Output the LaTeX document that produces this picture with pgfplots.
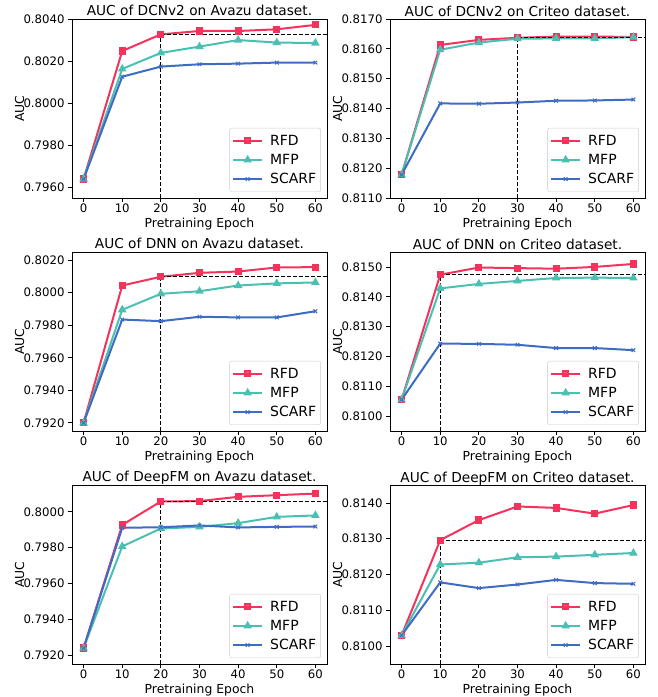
\documentclass[border=0pt]{standalone}
\usepackage{fontspec}
\setmainfont{DejaVu Sans}
\usepackage{pgfplots}
\pgfplotsset{compat=1.18}

\definecolor{rfd}{HTML}{F5325B}
\definecolor{mfp}{HTML}{4AC0B2}
\definecolor{scarf}{HTML}{3E6CC2}

\pgfplotsset{
  aucpanel/.style={
    scale only axis,
    width=255pt, height=179pt,
    anchor=south west,
    xmin=-3, xmax=63,
    xtick={0,10,20,30,40,50,60},
    /pgf/number format/assume math mode=true,
    tick align=outside,
    major tick length=4pt,
    tick style={black, line width=0.8pt},
    xtick pos=bottom, ytick pos=left,
    axis line style={line width=0.8pt},
    tick label style={font=\fontsize{11.7}{13}\selectfont},
    xticklabel style={yshift=1.5pt},
    xlabel={Pretraining Epoch},
    ylabel={AUC},
    label style={font=\fontsize{12.4}{14}\selectfont},
    xlabel style={at={(axis description cs:0.5,0)}, anchor=base, yshift=-29.5pt},
    ylabel style={at={(axis description cs:-0.188,0.5)}, anchor=base},
    title style={at={(axis description cs:0.5,1)}, anchor=base, yshift=-3pt,
      font=\fontsize{13.7}{16}\selectfont},
    legend cell align=left,
    legend style={at={(0.976,0.034)}, anchor=south east,
      draw=black!20, fill=white, fill opacity=0.8, text opacity=1,
      rounded corners=2pt, font=\fontsize{14}{16}\selectfont,
      inner xsep=2.5pt, inner ysep=5pt, row sep=4pt,
      nodes={text height=10.2pt, text depth=1pt, inner sep=2pt},
      /tikz/every odd column/.append style={column sep=5pt}},
    legend image code/.code={
      \draw[mark repeat=2, mark phase=2, ##1]
        plot coordinates {(0pt,0pt) (14.5pt,0pt) (29pt,0pt)};},
  },
  rfdline/.style={color=rfd, line width=2pt, mark=square*, mark size=2.6pt, mark options={solid}},
  mfpline/.style={color=mfp, line width=2pt, mark=triangle*, mark size=3pt, mark options={solid}},
  scarfline/.style={color=scarf, line width=2pt, mark=x, mark size=2.6pt, mark options={solid, line width=1pt}},
  bestline/.style={black, line width=0.9pt, dash pattern=on 4pt off 2pt, forget plot},
}

\begin{document}
\begin{tikzpicture}
\useasboundingbox (0,0) rectangle (657pt,697pt);

% DCNv2 / Avazu
\begin{axis}[aucpanel, at={(72pt,499pt)},
  title={AUC of DCNv2 on Avazu dataset.},
  ymin=0.7955, ymax=0.8040,
  ytick={0.796,0.798,0.800,0.802,0.804},
  yticklabels={0.7960,0.7980,0.8000,0.8020,0.8040}]
\addplot[rfdline] coordinates {(0,0.7964) (10,0.80248) (20,0.80327) (30,0.80343) (40,0.80343) (50,0.80351) (60,0.80372)};
\addplot[mfpline] coordinates {(0,0.7964) (10,0.80163) (20,0.80239) (30,0.80269) (40,0.80300) (50,0.80288) (60,0.80286)};
\addplot[scarfline] coordinates {(0,0.7964) (10,0.80126) (20,0.80174) (30,0.80185) (40,0.80188) (50,0.80193) (60,0.80193)};
\addplot[bestline] coordinates {(20,0.7955) (20,0.80327)};
\addplot[bestline] coordinates {(20,0.80327) (63,0.80327)};
\legend{RFD,MFP,SCARF}
\end{axis}

% DCNv2 / Criteo
\begin{axis}[aucpanel, at={(390pt,499pt)},
  title={AUC of DCNv2 on Criteo dataset.},
  ymin=0.8110, ymax=0.8170,
  ytick={0.811,0.812,0.813,0.814,0.815,0.816,0.817},
  yticklabels={0.8110,0.8120,0.8130,0.8140,0.8150,0.8160,0.8170}]
\addplot[rfdline] coordinates {(0,0.81178) (10,0.81613) (20,0.81630) (30,0.81637) (40,0.81641) (50,0.81641) (60,0.81640)};
\addplot[mfpline] coordinates {(0,0.81178) (10,0.81597) (20,0.81621) (30,0.81634) (40,0.81635) (50,0.81635) (60,0.81639)};
\addplot[scarfline] coordinates {(0,0.81178) (10,0.81417) (20,0.81416) (30,0.81420) (40,0.81426) (50,0.81427) (60,0.81430)};
\addplot[bestline] coordinates {(30,0.8110) (30,0.81637)};
\addplot[bestline] coordinates {(30,0.81637) (63,0.81637)};
\legend{RFD,MFP,SCARF}
\end{axis}

% DNN / Avazu
\begin{axis}[aucpanel, at={(72pt,266pt)},
  title={AUC of DNN on Avazu dataset.},
  ymin=0.7915, ymax=0.8025,
  ytick={0.792,0.794,0.796,0.798,0.800,0.802},
  yticklabels={0.7920,0.7940,0.7960,0.7980,0.8000,0.8020}]
\addplot[rfdline] coordinates {(0,0.7920) (10,0.80044) (20,0.80098) (30,0.80122) (40,0.80130) (50,0.80155) (60,0.80157)};
\addplot[mfpline] coordinates {(0,0.7920) (10,0.79895) (20,0.79993) (30,0.80009) (40,0.80044) (50,0.80057) (60,0.80063)};
\addplot[scarfline] coordinates {(0,0.7920) (10,0.79835) (20,0.79825) (30,0.79852) (40,0.79848) (50,0.79848) (60,0.79886)};
\addplot[bestline] coordinates {(20,0.7915) (20,0.80098)};
\addplot[bestline] coordinates {(20,0.80098) (63,0.80098)};
\legend{RFD,MFP,SCARF}
\end{axis}

% DNN / Criteo
\begin{axis}[aucpanel, at={(390pt,266pt)},
  title={AUC of DNN on Criteo dataset.},
  ymin=0.8095, ymax=0.8155,
  ytick={0.810,0.811,0.812,0.813,0.814,0.815},
  yticklabels={0.8100,0.8110,0.8120,0.8130,0.8140,0.8150}]
\addplot[rfdline] coordinates {(0,0.81055) (10,0.81474) (20,0.81498) (30,0.81496) (40,0.81494) (50,0.81500) (60,0.81510)};
\addplot[mfpline] coordinates {(0,0.81055) (10,0.81428) (20,0.81443) (30,0.81453) (40,0.81463) (50,0.81464) (60,0.81463)};
\addplot[scarfline] coordinates {(0,0.81055) (10,0.81243) (20,0.81242) (30,0.81239) (40,0.81228) (50,0.81228) (60,0.81221)};
\addplot[bestline] coordinates {(10,0.8095) (10,0.81474)};
\addplot[bestline] coordinates {(10,0.81474) (63,0.81474)};
\legend{RFD,MFP,SCARF}
\end{axis}

% DeepFM / Avazu
\begin{axis}[aucpanel, at={(72pt,33pt)},
  title={AUC of DeepFM on Avazu dataset.},
  ymin=0.7915, ymax=0.8015,
  ytick={0.792,0.794,0.796,0.798,0.800},
  yticklabels={0.7920,0.7940,0.7960,0.7980,0.8000}]
\addplot[rfdline] coordinates {(0,0.79239) (10,0.79927) (20,0.80058) (30,0.80060) (40,0.80084) (50,0.80093) (60,0.80102)};
\addplot[mfpline] coordinates {(0,0.79239) (10,0.79807) (20,0.79907) (30,0.79916) (40,0.79937) (50,0.79972) (60,0.79980)};
\addplot[scarfline] coordinates {(0,0.79239) (10,0.79911) (20,0.79914) (30,0.79924) (40,0.79913) (50,0.79916) (60,0.79918)};
\addplot[bestline] coordinates {(20,0.7915) (20,0.80058)};
\addplot[bestline] coordinates {(20,0.80058) (63,0.80058)};
\legend{RFD,MFP,SCARF}
\end{axis}

% DeepFM / Criteo
\begin{axis}[aucpanel, at={(390pt,33pt)},
  title={AUC of DeepFM on Criteo dataset.},
  ymin=0.8095, ymax=0.8145,
  ytick={0.810,0.811,0.812,0.813,0.814},
  yticklabels={0.8100,0.8110,0.8120,0.8130,0.8140}]
\addplot[rfdline] coordinates {(0,0.81030) (10,0.81296) (20,0.81352) (30,0.81390) (40,0.81386) (50,0.81370) (60,0.81394)};
\addplot[mfpline] coordinates {(0,0.81030) (10,0.81228) (20,0.81233) (30,0.81248) (40,0.81250) (50,0.81255) (60,0.81260)};
\addplot[scarfline] coordinates {(0,0.81030) (10,0.81178) (20,0.81162) (30,0.81172) (40,0.81185) (50,0.81176) (60,0.81174)};
\addplot[bestline] coordinates {(10,0.8095) (10,0.81296)};
\addplot[bestline] coordinates {(10,0.81296) (63,0.81296)};
\legend{RFD,MFP,SCARF}
\end{axis}
\end{tikzpicture}
\end{document}
